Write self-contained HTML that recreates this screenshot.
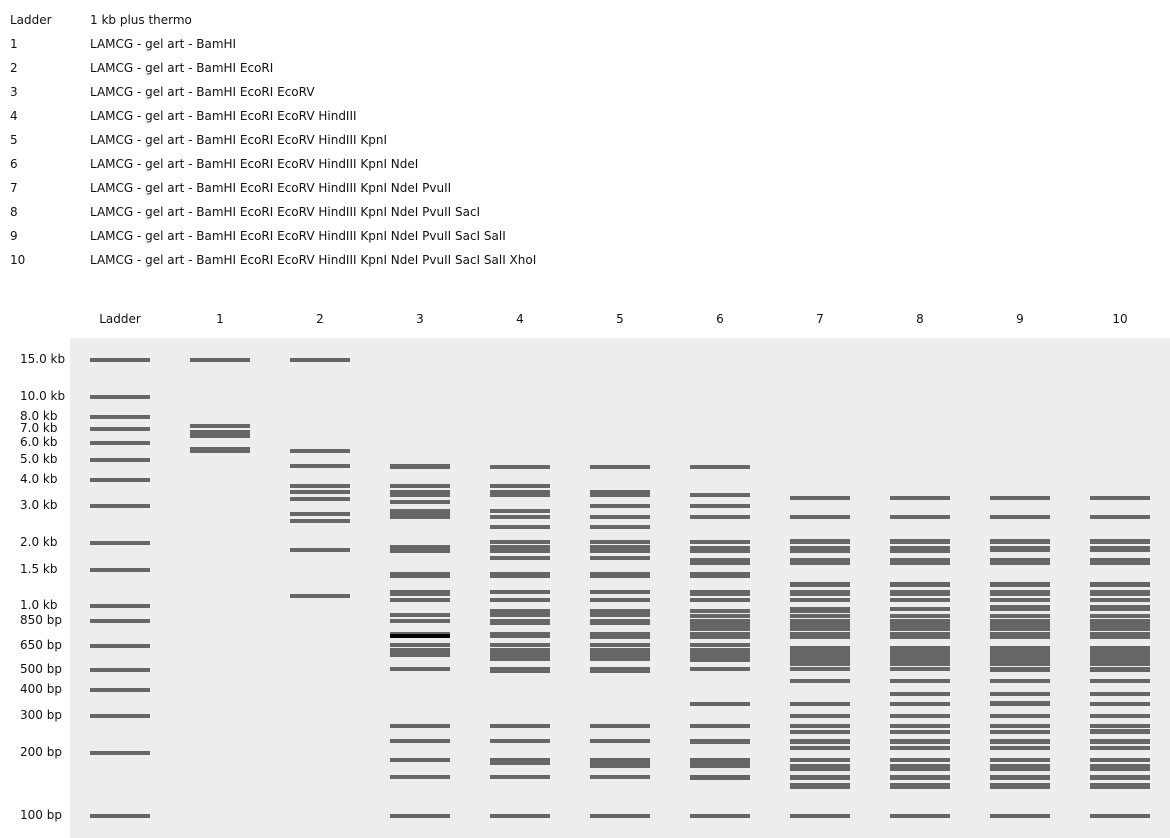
<!DOCTYPE html>
<html><head><meta charset="utf-8"><style>
html,body{margin:0;padding:0;background:#fff;}
svg{display:block;}
text{font-family:"DejaVu Sans","Liberation Sans",sans-serif;font-size:12px;fill:#111;}
</style></head><body>
<svg width="1170" height="838" viewBox="0 0 1170 838" xmlns="http://www.w3.org/2000/svg">
<g>
<text x="10" y="24">Ladder</text><text x="90" y="24">1 kb plus thermo</text>
<text x="10" y="48">1</text><text x="90" y="48">LAMCG - gel art - BamHI</text>
<text x="10" y="72">2</text><text x="90" y="72">LAMCG - gel art - BamHI EcoRI</text>
<text x="10" y="96">3</text><text x="90" y="96">LAMCG - gel art - BamHI EcoRI EcoRV</text>
<text x="10" y="120">4</text><text x="90" y="120">LAMCG - gel art - BamHI EcoRI EcoRV HindIII</text>
<text x="10" y="144">5</text><text x="90" y="144">LAMCG - gel art - BamHI EcoRI EcoRV HindIII KpnI</text>
<text x="10" y="168">6</text><text x="90" y="168">LAMCG - gel art - BamHI EcoRI EcoRV HindIII KpnI NdeI</text>
<text x="10" y="192">7</text><text x="90" y="192">LAMCG - gel art - BamHI EcoRI EcoRV HindIII KpnI NdeI PvuII</text>
<text x="10" y="216">8</text><text x="90" y="216">LAMCG - gel art - BamHI EcoRI EcoRV HindIII KpnI NdeI PvuII SacI</text>
<text x="10" y="240">9</text><text x="90" y="240">LAMCG - gel art - BamHI EcoRI EcoRV HindIII KpnI NdeI PvuII SacI SalI</text>
<text x="10" y="264">10</text><text x="90" y="264">LAMCG - gel art - BamHI EcoRI EcoRV HindIII KpnI NdeI PvuII SacI SalI XhoI</text>
</g>
<g text-anchor="middle">
<text x="120" y="323">Ladder</text><text x="220" y="323">1</text><text x="320" y="323">2</text><text x="420" y="323">3</text><text x="520" y="323">4</text><text x="620" y="323">5</text><text x="720" y="323">6</text><text x="820" y="323">7</text><text x="920" y="323">8</text><text x="1020" y="323">9</text><text x="1120" y="323">10</text>
</g>
<rect x="70" y="338" width="1100" height="500" fill="#ededed"/>
<g>
<text x="20" y="363">15.0 kb</text><text x="20" y="400">10.0 kb</text><text x="20" y="420">8.0 kb</text><text x="20" y="432">7.0 kb</text><text x="20" y="446">6.0 kb</text><text x="20" y="463">5.0 kb</text><text x="20" y="483">4.0 kb</text><text x="20" y="509">3.0 kb</text><text x="20" y="546">2.0 kb</text><text x="20" y="573">1.5 kb</text><text x="20" y="609">1.0 kb</text><text x="20" y="624">850 bp</text><text x="20" y="649">650 bp</text><text x="20" y="673">500 bp</text><text x="20" y="693">400 bp</text><text x="20" y="719">300 bp</text><text x="20" y="756">200 bp</text><text x="20" y="819">100 bp</text>
</g>
<g fill="#666">
<g transform="translate(90,0)">
<rect y="358" width="60" height="4"/><rect y="395" width="60" height="4"/><rect y="415" width="60" height="4"/><rect y="427" width="60" height="4"/><rect y="441" width="60" height="4"/><rect y="458" width="60" height="4"/><rect y="478" width="60" height="4"/><rect y="504" width="60" height="4"/><rect y="541" width="60" height="4"/><rect y="568" width="60" height="4"/><rect y="604" width="60" height="4"/><rect y="619" width="60" height="4"/><rect y="644" width="60" height="4"/><rect y="668" width="60" height="4"/><rect y="688" width="60" height="4"/><rect y="714" width="60" height="4"/><rect y="751" width="60" height="4"/><rect y="814" width="60" height="4"/>
</g>
<g transform="translate(190,0)">
<rect y="358" width="60" height="4"/><rect y="424" width="60" height="4"/><rect y="430" width="60" height="8"/><rect y="447" width="60" height="6"/>
</g>
<g transform="translate(290,0)">
<rect y="358" width="60" height="4"/><rect y="449" width="60" height="4"/><rect y="464" width="60" height="4"/><rect y="484" width="60" height="4"/><rect y="490" width="60" height="4"/><rect y="497" width="60" height="4"/><rect y="512" width="60" height="4"/><rect y="519" width="60" height="4"/><rect y="548" width="60" height="4"/><rect y="594" width="60" height="4"/>
</g>
<g transform="translate(390,0)">
<rect y="464" width="60" height="5"/><rect y="484" width="60" height="4"/><rect y="490" width="60" height="7"/><rect y="500" width="60" height="4"/><rect y="509" width="60" height="10"/><rect y="545" width="60" height="8"/><rect y="572" width="60" height="6"/><rect y="590" width="60" height="6"/><rect y="598" width="60" height="4"/><rect y="613" width="60" height="4"/><rect y="619" width="60" height="4"/><rect y="632" width="60" height="2"/><rect y="634" width="60" height="4" fill="#000"/><rect y="643" width="60" height="4"/><rect y="648" width="60" height="9"/><rect y="667" width="60" height="4"/><rect y="724" width="60" height="4"/><rect y="739" width="60" height="4"/><rect y="758" width="60" height="4"/><rect y="775" width="60" height="4"/><rect y="814" width="60" height="4"/>
</g>
<g transform="translate(490,0)">
<rect y="465" width="60" height="4"/><rect y="484" width="60" height="4"/><rect y="490" width="60" height="7"/><rect y="509" width="60" height="4"/><rect y="515" width="60" height="4"/><rect y="525" width="60" height="4"/><rect y="540" width="60" height="4"/><rect y="545" width="60" height="8"/><rect y="556" width="60" height="4"/><rect y="572" width="60" height="6"/><rect y="590" width="60" height="4"/><rect y="598" width="60" height="4"/><rect y="609" width="60" height="8"/><rect y="619" width="60" height="6"/><rect y="632" width="60" height="6"/><rect y="643" width="60" height="4"/><rect y="648" width="60" height="13"/><rect y="667" width="60" height="6"/><rect y="724" width="60" height="4"/><rect y="739" width="60" height="4"/><rect y="758" width="60" height="7"/><rect y="775" width="60" height="4"/><rect y="814" width="60" height="4"/>
</g>
<g transform="translate(590,0)">
<rect y="465" width="60" height="4"/><rect y="490" width="60" height="7"/><rect y="504" width="60" height="4"/><rect y="515" width="60" height="4"/><rect y="525" width="60" height="4"/><rect y="540" width="60" height="4"/><rect y="545" width="60" height="8"/><rect y="556" width="60" height="4"/><rect y="572" width="60" height="6"/><rect y="590" width="60" height="4"/><rect y="598" width="60" height="4"/><rect y="609" width="60" height="8"/><rect y="619" width="60" height="6"/><rect y="632" width="60" height="7"/><rect y="643" width="60" height="4"/><rect y="648" width="60" height="13"/><rect y="667" width="60" height="6"/><rect y="724" width="60" height="4"/><rect y="739" width="60" height="4"/><rect y="758" width="60" height="10"/><rect y="775" width="60" height="4"/><rect y="814" width="60" height="4"/>
</g>
<g transform="translate(690,0)">
<rect y="465" width="60" height="4"/><rect y="493" width="60" height="4"/><rect y="504" width="60" height="4"/><rect y="515" width="60" height="4"/><rect y="540" width="60" height="4"/><rect y="546" width="60" height="7"/><rect y="558" width="60" height="7"/><rect y="572" width="60" height="6"/><rect y="590" width="60" height="6"/><rect y="598" width="60" height="4"/><rect y="609" width="60" height="4"/><rect y="614" width="60" height="4"/><rect y="619" width="60" height="12"/><rect y="632" width="60" height="7"/><rect y="643" width="60" height="4"/><rect y="648" width="60" height="14"/><rect y="667" width="60" height="4"/><rect y="702" width="60" height="4"/><rect y="724" width="60" height="4"/><rect y="739" width="60" height="5"/><rect y="758" width="60" height="10"/><rect y="775" width="60" height="5"/><rect y="814" width="60" height="4"/>
</g>
<g transform="translate(790,0)">
<rect y="496" width="60" height="4"/><rect y="515" width="60" height="4"/><rect y="539" width="60" height="5"/><rect y="546" width="60" height="7"/><rect y="558" width="60" height="7"/><rect y="582" width="60" height="5"/><rect y="590" width="60" height="6"/><rect y="598" width="60" height="4"/><rect y="607" width="60" height="6"/><rect y="614" width="60" height="4"/><rect y="619" width="60" height="12"/><rect y="632" width="60" height="7"/><rect y="646" width="60" height="20"/><rect y="667" width="60" height="4"/><rect y="679" width="60" height="4"/><rect y="702" width="60" height="4"/><rect y="714" width="60" height="4"/><rect y="724" width="60" height="4"/><rect y="730" width="60" height="4"/><rect y="739" width="60" height="5"/><rect y="746" width="60" height="4"/><rect y="758" width="60" height="4"/><rect y="764" width="60" height="7"/><rect y="775" width="60" height="5"/><rect y="783" width="60" height="6"/><rect y="814" width="60" height="4"/>
</g>
<g transform="translate(890,0)">
<rect y="496" width="60" height="4"/><rect y="515" width="60" height="4"/><rect y="539" width="60" height="5"/><rect y="546" width="60" height="7"/><rect y="558" width="60" height="7"/><rect y="582" width="60" height="5"/><rect y="590" width="60" height="6"/><rect y="598" width="60" height="4"/><rect y="607" width="60" height="4"/><rect y="614" width="60" height="4"/><rect y="619" width="60" height="12"/><rect y="632" width="60" height="7"/><rect y="646" width="60" height="20"/><rect y="667" width="60" height="4"/><rect y="679" width="60" height="4"/><rect y="692" width="60" height="4"/><rect y="702" width="60" height="4"/><rect y="714" width="60" height="4"/><rect y="724" width="60" height="4"/><rect y="730" width="60" height="4"/><rect y="739" width="60" height="5"/><rect y="746" width="60" height="4"/><rect y="758" width="60" height="4"/><rect y="764" width="60" height="7"/><rect y="775" width="60" height="5"/><rect y="783" width="60" height="6"/><rect y="814" width="60" height="4"/>
</g>
<g transform="translate(990,0)">
<rect y="496" width="60" height="4"/><rect y="515" width="60" height="4"/><rect y="539" width="60" height="5"/><rect y="546" width="60" height="6"/><rect y="558" width="60" height="7"/><rect y="582" width="60" height="5"/><rect y="590" width="60" height="6"/><rect y="598" width="60" height="4"/><rect y="605" width="60" height="6"/><rect y="614" width="60" height="4"/><rect y="619" width="60" height="12"/><rect y="632" width="60" height="7"/><rect y="646" width="60" height="20"/><rect y="667" width="60" height="5"/><rect y="679" width="60" height="4"/><rect y="692" width="60" height="4"/><rect y="701" width="60" height="5"/><rect y="714" width="60" height="4"/><rect y="724" width="60" height="4"/><rect y="730" width="60" height="4"/><rect y="739" width="60" height="5"/><rect y="746" width="60" height="4"/><rect y="758" width="60" height="4"/><rect y="764" width="60" height="7"/><rect y="775" width="60" height="5"/><rect y="783" width="60" height="6"/><rect y="814" width="60" height="4"/>
</g>
<g transform="translate(1090,0)">
<rect y="496" width="60" height="4"/><rect y="515" width="60" height="4"/><rect y="539" width="60" height="5"/><rect y="546" width="60" height="6"/><rect y="558" width="60" height="7"/><rect y="582" width="60" height="5"/><rect y="590" width="60" height="6"/><rect y="598" width="60" height="4"/><rect y="605" width="60" height="6"/><rect y="614" width="60" height="4"/><rect y="619" width="60" height="12"/><rect y="632" width="60" height="7"/><rect y="646" width="60" height="20"/><rect y="667" width="60" height="5"/><rect y="679" width="60" height="4"/><rect y="692" width="60" height="4"/><rect y="702" width="60" height="4"/><rect y="714" width="60" height="4"/><rect y="724" width="60" height="4"/><rect y="729" width="60" height="5"/><rect y="739" width="60" height="5"/><rect y="746" width="60" height="4"/><rect y="758" width="60" height="4"/><rect y="764" width="60" height="7"/><rect y="775" width="60" height="5"/><rect y="783" width="60" height="6"/><rect y="814" width="60" height="4"/>
</g>
</g>
</svg>
</body></html>
